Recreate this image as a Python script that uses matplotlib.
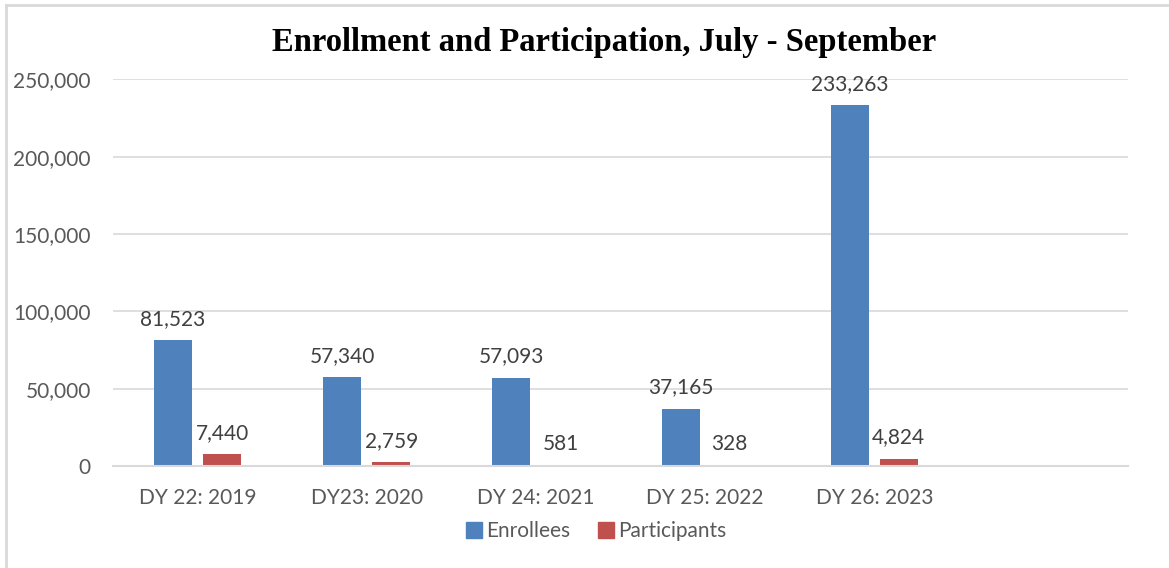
import numpy as np
import matplotlib.pyplot as plt
from matplotlib.lines import Line2D

# ============================================================
# Data
# ============================================================

categories = ["DY 22: 2019", "DY23: 2020", "DY 24: 2021", "DY 25: 2022", "DY 26: 2023"]
enrollees = [81523, 57340, 57093, 37165, 233263]
participants = [7440, 2759, 581, 328, 4824]

n_slots = 6  # the chart keeps an empty sixth slot on the right

blue = "#4F81BD"
red = "#C0504D"
grid_col = "#D9D9D9"
tick_col = "#595959"
label_col = "#404040"

plt.rcParams['font.family'] = ['Lato', 'DejaVu Sans']

fig = plt.figure(figsize=(11.69, 5.68), dpi=100)
ax = fig.add_axes([113/1169, 1 - 466/568, (1128 - 113)/1169, (466 - 79.3)/568])

x = np.arange(len(categories))
w = 0.225
off = 0.145

b1 = ax.bar(x - off, enrollees, w, color=blue, label="Enrollees", zorder=3)
b2 = ax.bar(x + off, participants, w, color=red, label="Participants", zorder=3)

for bars in (b1, b2):
    ax.bar_label(bars, labels=[f"{v:,}" for v in bars.datavalues],
                 padding=8, fontsize=15, color=label_col)

ax.set_xlim(-0.5, n_slots - 0.5)
ax.set_ylim(0, 250000)
ax.set_yticks(np.arange(0, 250001, 50000))
ax.set_yticklabels([f"{v:,}" for v in range(0, 250001, 50000)])
ax.set_xticks(x)
ax.set_xticklabels(categories)

ax.tick_params(axis='y', length=0, pad=16, labelsize=15, labelcolor=tick_col)
ax.tick_params(axis='x', length=0, pad=16, labelsize=15, labelcolor=tick_col)

ax.grid(axis='y', color=grid_col, lw=1.2, zorder=0)
for s in ("top", "right", "left"):
    ax.spines[s].set_visible(False)
ax.spines["bottom"].set_color(grid_col)
ax.spines["bottom"].set_linewidth(1.5)
ax.spines["bottom"].set_zorder(4)

# title, centred on the figure area rather than the axes
fig.text(604/1169, 1 - 43/568, "Enrollment and Participation, July - September",
         ha='center', va='center', fontsize=23.5, fontweight='bold',
         family=['Liberation Serif', 'DejaVu Serif'])

# legend below the axis labels
handles = [Line2D([], [], marker='s', ls='', color=blue, markersize=12),
           Line2D([], [], marker='s', ls='', color=red, markersize=12)]
fig.legend(handles, ["Enrollees", "Participants"], loc='center',
           bbox_to_anchor=(595/1169, 1 - 531/568), ncol=2, frameon=False,
           fontsize=15, labelcolor=tick_col, handletextpad=0.1,
           columnspacing=1.2, handlelength=1.0)

# light border around the chart area (left and top visible in the crop)
fig.add_artist(Line2D([6/1169, 6/1169], [0, 1 - 5/568], color=grid_col, lw=2,
                      transform=fig.transFigure))
fig.add_artist(Line2D([6/1169, 1], [1 - 5/568, 1 - 5/568], color=grid_col, lw=2,
                      transform=fig.transFigure))

fig.savefig("out.png", dpi=100, facecolor="white")
